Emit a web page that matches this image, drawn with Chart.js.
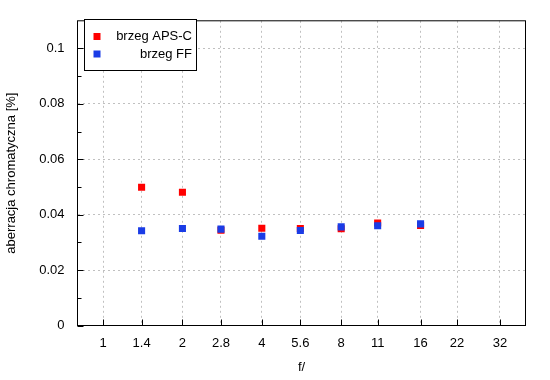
<!DOCTYPE html>
<html>
<head>
<meta charset="utf-8">
<script src="https://cdn.jsdelivr.net/npm/chart.js@4/dist/chart.umd.min.js"></script>
<style>
html,body{margin:0;padding:0;background:#fff;}
#wrap{width:550px;height:380px;position:relative;}
</style>
</head>
<body>
<div id="wrap"><canvas id="c" width="550" height="380"></canvas></div>
<script>
// ---- data ----
const fStops = [1.4, 2, 2.8, 4, 5.6, 8, 11, 16];
const apscValues = [0.0499, 0.0481, 0.0344, 0.0351, 0.0350, 0.0349, 0.0370, 0.0361];
const ffValues = [0.0342, 0.0350, 0.0348, 0.0322, 0.0343, 0.0356, 0.0360, 0.0367];
const xTickValues = [1, 1.4, 2, 2.8, 4, 5.6, 8, 11, 16, 22, 32];
const yTickValues = [0, 0.02, 0.04, 0.06, 0.08, 0.1];
const yMinorValues = [0.01, 0.03, 0.05, 0.07, 0.09];
const seriesNames = ['brzeg APS-C', 'brzeg FF'];
const xTitle = 'f/';
const yTitle = 'aberracja chromatyczna [%]';

const FONT = '"Liberation Sans", Arial, sans-serif';
const FS = 13;
const RED = '#ff0000';
const BLUE = '#1a3ce6';

const toPoints = (xs, ys) => xs.map((x, i) => ({x: x, y: ys[i]}));

const frame = {
  id: 'frame',
  afterDatasetsDraw(chart) {
    const ctx = chart.ctx;
    const a = chart.chartArea;
    const xs = chart.scales.x, ys = chart.scales.y;
    ctx.save();
    ctx.strokeStyle = '#000';
    ctx.lineWidth = 1;
    ctx.beginPath();
    xTickValues.forEach(v => {
      const px = Math.round(xs.getPixelForValue(v)) + 0.5;
      ctx.moveTo(px, a.bottom);
      ctx.lineTo(px, a.bottom - 6);
    });
    yTickValues.forEach(v => {
      const py = Math.round(ys.getPixelForValue(v)) + 0.5;
      ctx.moveTo(a.left, py);
      ctx.lineTo(a.left + 6, py);
    });
    yMinorValues.forEach(v => {
      const py = Math.round(ys.getPixelForValue(v)) + 0.5;
      ctx.moveTo(a.left, py);
      ctx.lineTo(a.left + 4, py);
    });
    ctx.stroke();
    ctx.strokeRect(a.left, a.top, a.right - a.left, a.bottom - a.top);

    // legend
    const lx = 84.5, ly = 19.5, lw = 112, lh = 51;
    ctx.fillStyle = '#fff';
    ctx.fillRect(lx, ly, lw, lh);
    ctx.strokeRect(lx, ly, lw, lh);
    ctx.font = FS + 'px ' + FONT;
    ctx.textAlign = 'right';
    ctx.textBaseline = 'middle';
    const colors = [RED, BLUE];
    const rowsY = [36.5, 54];
    seriesNames.forEach((name, i) => {
      ctx.fillStyle = colors[i];
      ctx.fillRect(93.5, rowsY[i] - 3.5, 7, 7);
      ctx.fillStyle = '#000';
      ctx.fillText(name, 192, rowsY[i]);
    });
    ctx.restore();
  }
};

new Chart(document.getElementById('c'), {
  type: 'scatter',
  data: {
    datasets: [
      {label: seriesNames[0], data: toPoints(fStops, apscValues), backgroundColor: RED, borderColor: RED,
       pointStyle: 'rect', pointRadius: 5, borderWidth: 0, order: 2},
      {label: seriesNames[1], data: toPoints(fStops, ffValues), backgroundColor: BLUE, borderColor: BLUE,
       pointStyle: 'rect', pointRadius: 5, borderWidth: 0, order: 1}
    ]
  },
  options: {
    responsive: false,
    animation: false,
    devicePixelRatio: 1,
    layout: {padding: {top: 16.5, right: 24.5, left: 0, bottom: 0}},
    plugins: {legend: {display: false}, tooltip: {enabled: false}},
    scales: {
      x: {
        type: 'logarithmic',
        min: 0.8, max: 40,
        afterBuildTicks: s => { s.ticks = xTickValues.map(v => ({value: v})); },
        afterFit: s => { s.height = 54.5; },
        ticks: {
          callback: v => String(v),
          font: {family: FONT, size: FS}, color: '#000', padding: 10,
          maxRotation: 0, autoSkip: false
        },
        grid: {color: '#c0c0c0', lineWidth: 1, drawTicks: false},
        border: {display: false, dash: [2, 3]},
        title: {display: true, text: xTitle, font: {family: FONT, size: FS}, color: '#000', padding: {top: 0, bottom: 5}}
      },
      y: {
        min: 0, max: 0.11,
        afterBuildTicks: s => { s.ticks = yTickValues.map(v => ({value: v})); },
        afterFit: s => { s.width = 77.5; },
        ticks: {
          callback: v => String(+v.toFixed(2)),
          font: {family: FONT, size: FS}, color: '#000', padding: 13
        },
        grid: {color: '#c0c0c0', lineWidth: 1, drawTicks: false},
        border: {display: false, dash: [2, 3]},
        title: {display: true, text: yTitle, font: {family: FONT, size: FS}, color: '#000', padding: {top: 4, bottom: 0}}
      }
    }
  },
  plugins: [frame]
});
</script>
</body>
</html>
